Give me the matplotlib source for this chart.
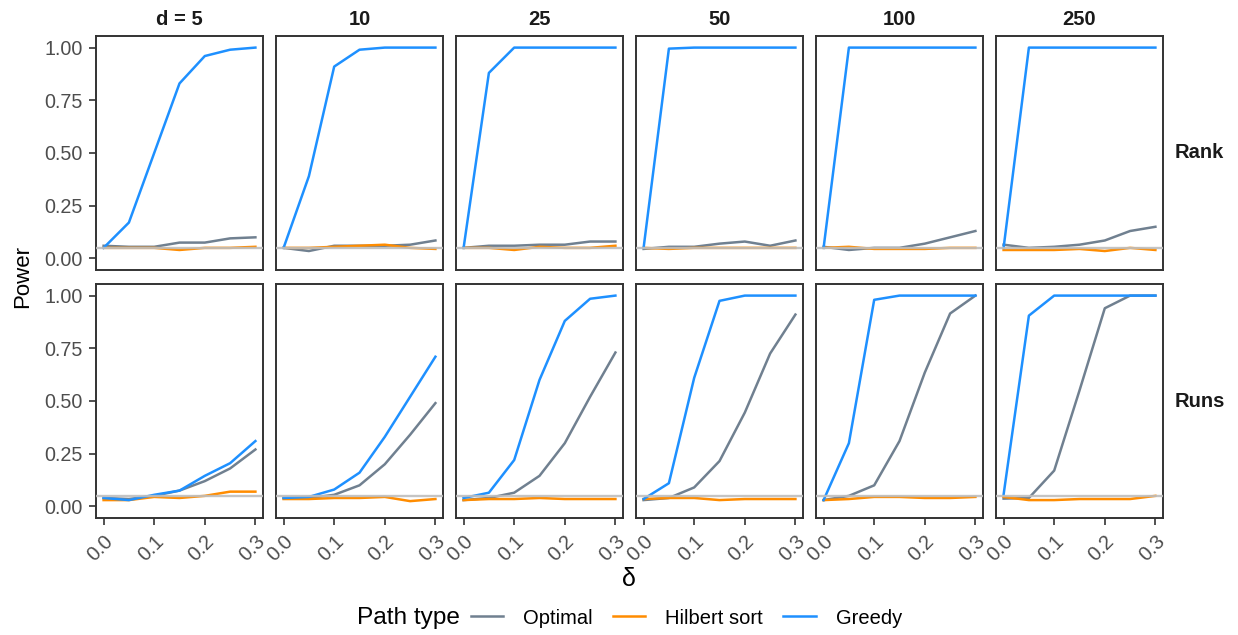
import matplotlib
matplotlib.use("Agg")
import matplotlib.pyplot as plt
from matplotlib.lines import Line2D

plt.rcParams['font.family'] = ['Liberation Sans', 'DejaVu Sans']

# x values and facets
delta = [0.0, 0.05, 0.1, 0.15, 0.2, 0.25, 0.3]
dims = [5, 10, 25, 50, 100, 250]
tests = ["Rank", "Runs"]
paths = ["Optimal", "Hilbert sort", "Greedy"]
colors = ["#708090", "#FF8C00", "#1E90FF"]

# power for the rank test, one list per d
rank_optimal = [
    [0.06, 0.055, 0.055, 0.075, 0.075, 0.095, 0.10],
    [0.05, 0.035, 0.06, 0.06, 0.06, 0.065, 0.085],
    [0.05, 0.06, 0.06, 0.065, 0.065, 0.08, 0.08],
    [0.045, 0.055, 0.055, 0.07, 0.08, 0.06, 0.085],
    [0.055, 0.04, 0.05, 0.05, 0.07, 0.10, 0.13],
    [0.065, 0.05, 0.055, 0.065, 0.085, 0.13, 0.15],
]
rank_hilbert = [
    [0.05, 0.05, 0.05, 0.04, 0.05, 0.05, 0.055],
    [0.05, 0.05, 0.055, 0.06, 0.065, 0.05, 0.045],
    [0.05, 0.05, 0.04, 0.055, 0.05, 0.05, 0.06],
    [0.05, 0.045, 0.05, 0.05, 0.05, 0.05, 0.05],
    [0.05, 0.055, 0.045, 0.045, 0.045, 0.05, 0.05],
    [0.04, 0.04, 0.04, 0.045, 0.035, 0.05, 0.04],
]
rank_greedy = [
    [0.05, 0.17, 0.50, 0.83, 0.96, 0.99, 1.00],
    [0.05, 0.39, 0.91, 0.99, 1.00, 1.00, 1.00],
    [0.05, 0.88, 1.00, 1.00, 1.00, 1.00, 1.00],
    [0.05, 0.995, 1.00, 1.00, 1.00, 1.00, 1.00],
    [0.05, 1.00, 1.00, 1.00, 1.00, 1.00, 1.00],
    [0.05, 1.00, 1.00, 1.00, 1.00, 1.00, 1.00],
]

# power for the runs test
runs_optimal = [
    [0.04, 0.035, 0.05, 0.075, 0.12, 0.18, 0.27],
    [0.04, 0.04, 0.055, 0.10, 0.20, 0.34, 0.49],
    [0.03, 0.04, 0.065, 0.145, 0.30, 0.52, 0.73],
    [0.03, 0.04, 0.09, 0.215, 0.445, 0.725, 0.91],
    [0.03, 0.05, 0.10, 0.31, 0.635, 0.915, 1.00],
    [0.037, 0.04, 0.17, 0.55, 0.94, 1.00, 1.00],
]
runs_hilbert = [
    [0.03, 0.03, 0.045, 0.04, 0.05, 0.07, 0.07],
    [0.035, 0.035, 0.04, 0.04, 0.045, 0.025, 0.035],
    [0.03, 0.035, 0.035, 0.04, 0.035, 0.035, 0.035],
    [0.035, 0.04, 0.04, 0.03, 0.035, 0.035, 0.035],
    [0.03, 0.035, 0.045, 0.045, 0.04, 0.04, 0.045],
    [0.045, 0.03, 0.03, 0.035, 0.035, 0.035, 0.05],
]
runs_greedy = [
    [0.04, 0.03, 0.055, 0.075, 0.145, 0.205, 0.31],
    [0.04, 0.045, 0.08, 0.16, 0.33, 0.52, 0.71],
    [0.04, 0.065, 0.22, 0.60, 0.88, 0.985, 1.00],
    [0.035, 0.11, 0.61, 0.975, 1.00, 1.00, 1.00],
    [0.03, 0.30, 0.98, 1.00, 1.00, 1.00, 1.00],
    [0.056, 0.905, 1.00, 1.00, 1.00, 1.00, 1.00],
]

data = {
    "Rank": [rank_optimal, rank_hilbert, rank_greedy],
    "Runs": [runs_optimal, runs_hilbert, runs_greedy],
}

W, H = 1238, 635
fig = plt.figure(figsize=(W / 100, H / 100), dpi=100)

col_left = [96, 276, 456, 636, 816, 996]
col_w = 167
row_top = [36, 284]
row_h = 234
axis_col = "#333333"
tick_txt = "#4D4D4D"

for r, test in enumerate(tests):
    for c, d in enumerate(dims):
        ax = fig.add_axes([col_left[c] / W, 1 - (row_top[r] + row_h) / H,
                           col_w / W, row_h / H])
        for p in range(3):
            ax.plot(delta, data[test][p][c], color=colors[p], lw=1.8, zorder=2 + p)
        ax.axhline(0.05, color="#BEBEBE", lw=1.7, zorder=6, alpha=0.9)
        ax.set_xlim(-0.015, 0.315)
        ax.set_ylim(-0.055, 1.055)
        ax.set_xticks([0.0, 0.1, 0.2, 0.3])
        ax.set_yticks([0.0, 0.25, 0.5, 0.75, 1.0])
        for s in ax.spines.values():
            s.set_color(axis_col)
            s.set_linewidth(1.4)
        ax.tick_params(length=5, width=1.2, pad=4.3, color=axis_col,
                       labelcolor=tick_txt, labelsize=14.2)
        if c == 0:
            ax.set_yticklabels(["0.00", "0.25", "0.50", "0.75", "1.00"])
        else:
            ax.tick_params(axis="y", length=0, labelleft=False)
        if r == 1:
            ax.set_xticklabels(["0.0", "0.1", "0.2", "0.3"], rotation=45,
                               ha="right", va="top", rotation_mode="anchor")
            ax.tick_params(axis="x", pad=5, labelsize=14.5)
        else:
            ax.tick_params(axis="x", length=0, labelbottom=False)
        if r == 0:
            title = f"d = {d}" if c == 0 else str(d)
            ax.set_title(title, fontsize=14.5, fontweight="bold", pad=8, color="#1A1A1A")
        if c == 5:
            ax.text(1.07, 0.5, test, transform=ax.transAxes, fontsize=14.5,
                    fontweight="bold", va="center", ha="left", color="#1A1A1A")

fig.text(23 / W, 1 - 277 / H, "Power", rotation=90, fontsize=16,
         ha="center", va="center")
fig.text(629 / W, 1 - 579 / H, "δ", fontsize=18, ha="center", va="center")

# legend with the title to its left
fig.text(357 / W, 1 - 618 / H, "Path type", fontsize=17.6, ha="left", va="center")
handles = [Line2D([0], [0], color=col, lw=1.8) for col in colors]
fig.legend(handles, paths, loc="center left", bbox_to_anchor=(471 / W, 1 - 618 / H),
           ncol=3, frameon=False, fontsize=14.5, handlelength=1.6,
           columnspacing=1.0, handletextpad=1.0, borderaxespad=0, borderpad=0)

fig.savefig("out.png", dpi=100)
